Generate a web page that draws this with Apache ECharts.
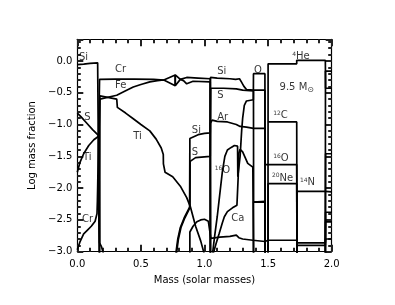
<!DOCTYPE html>
<html><head><meta charset="utf-8">
<script src="https://cdn.jsdelivr.net/npm/echarts@6/dist/echarts.min.js"></script>
<style>html,body{margin:0;padding:0;background:#fff}#c{width:395px;height:305px}</style>
</head><body><div id="c"></div>
<script>
// axis ticks
const xTicks = [0.0, 0.5, 1.0, 1.5, 2.0];
const yTicks = [-3.0, -2.5, -2.0, -1.5, -1.0, -0.5, 0.0];

// abundance profiles [mass, log mass fraction]
const si = [[0,-0.058],[0.05,-0.05],[0.1,-0.04],[0.16,-0.03],[0.172,-0.03],[0.172,-3.1],[0.77,-3.1],[0.79,-2.8],[0.81,-2.62],[0.84,-2.47],[0.87,-2.35],[0.883,-2.3],[0.885,-1.22],[0.9,-1.19],[0.95,-1.16],[1.0,-1.14],[1.045,-1.13],[1.047,-0.26],[1.1,-0.27],[1.2,-0.28],[1.245,-0.29],[1.26,-0.27],[1.275,-0.28],[1.29,-0.33],[1.31,-0.4],[1.33,-0.45],[1.385,-0.46],[1.475,-0.46],[1.477,-3.1]];
const s = [[0,-0.82],[0.03,-0.88],[0.075,-0.98],[0.12,-1.08],[0.17,-1.18],[0.175,-2.86],[0.19,-2.92],[0.215,-3.1],[0.775,-3.1],[0.795,-2.8],[0.815,-2.62],[0.845,-2.47],[0.875,-2.35],[0.886,-2.3],[0.887,-1.58],[0.9,-1.55],[0.93,-1.52],[1.045,-1.5],[1.049,-0.43],[1.15,-0.43],[1.25,-0.44],[1.3,-0.46],[1.385,-0.47],[1.386,-2.22],[1.475,-2.22],[1.477,-3.1]];
const ti = [[0,-1.75],[0.02,-1.6],[0.05,-1.46],[0.09,-1.33],[0.13,-1.24],[0.17,-1.18],[0.178,-0.55],[0.31,-0.6],[0.315,-0.73],[0.38,-0.82],[0.44,-0.91],[0.5,-1.0],[0.57,-1.1],[0.62,-1.23],[0.66,-1.37],[0.676,-1.47],[0.677,-1.62],[0.69,-1.75],[0.75,-1.82],[0.81,-1.97],[0.86,-2.15],[0.89,-2.3],[0.93,-2.6],[0.97,-2.83],[1.0,-3.05]];
const cr = [[0,-2.97],[0.02,-2.85],[0.05,-2.72],[0.08,-2.66],[0.11,-2.6],[0.14,-2.52],[0.155,-2.4],[0.158,-2.2],[0.16,-2.0],[0.175,-0.29],[0.3,-0.285],[0.45,-0.285],[0.6,-0.29],[0.68,-0.3],[0.77,-0.22],[0.77,-0.39],[0.81,-0.29],[0.86,-0.26],[0.95,-0.27],[1.045,-0.28],[1.047,-3.1]];
const fe = [[0.176,-3.1],[0.178,-0.6],[0.31,-0.54],[0.38,-0.47],[0.44,-0.41],[0.5,-0.37],[0.57,-0.33],[0.63,-0.31],[0.68,-0.3],[0.77,-0.39],[0.77,-0.22],[0.81,-0.29],[0.835,-0.31],[0.86,-0.36],[0.875,-0.36],[0.91,-0.32],[1.045,-0.33],[1.047,-3.1]];
const ni = [[0.885,-3.1],[0.885,-2.69],[0.91,-2.6],[0.94,-2.53],[0.97,-2.5],[1.0,-2.49],[1.03,-2.52],[1.045,-2.55],[1.05,-2.79],[1.12,-2.77],[1.2,-2.76],[1.25,-2.74],[1.27,-2.78],[1.3,-2.8],[1.38,-2.82],[1.385,-2.84],[1.475,-2.84],[1.5,-2.82],[1.725,-2.82],[1.727,-2.86],[1.95,-2.86],[1.952,-2.8],[2.0,-2.8]];
const ar = [[1.045,-3.1],[1.046,-0.98],[1.06,-0.93],[1.1,-0.95],[1.18,-0.96],[1.25,-1.0],[1.28,-1.03],[1.33,-1.04],[1.385,-1.06],[1.475,-1.06],[1.477,-3.1]];
const o16 = [[1.062,-3.05],[1.08,-2.75],[1.1,-2.45],[1.12,-2.1],[1.14,-1.75],[1.16,-1.5],[1.18,-1.4],[1.21,-1.36],[1.235,-1.33],[1.26,-1.34],[1.262,-1.82],[1.272,-1.82],[1.28,-1.5],[1.292,-1.1],[1.3,-0.9],[1.313,-0.7],[1.33,-0.63],[1.384,-0.61],[1.385,-0.2],[1.475,-0.2],[1.476,-1.63],[1.725,-1.63],[1.727,-3.1],[1.95,-3.1],[1.952,-1.46],[2.0,-1.46]];
const ca = [[1.066,-3.05],[1.09,-2.88],[1.116,-2.71],[1.14,-2.55],[1.156,-2.45],[1.18,-2.37],[1.22,-2.31],[1.255,-2.27],[1.265,-1.82],[1.27,-1.45],[1.28,-1.39],[1.3,-1.43],[1.32,-1.52],[1.34,-1.61],[1.38,-1.67],[1.386,-3.1]];
const mg = [[1.385,-3.1],[1.385,-2.22],[1.475,-2.21],[1.476,-3.1]];
const ne20 = [[1.5,-3.1],[1.5,-1.93],[1.725,-1.93],[1.727,-3.1],[1.95,-3.1],[1.952,-2.38],[2.0,-2.38]];
const he4 = [[1.499,-3.1],[1.5,-0.045],[1.725,-0.045],[1.725,0.01],[1.95,0.01],[1.952,-0.43],[2.0,-0.43]];
const c12 = [[1.5,-0.96],[1.725,-0.96],[1.727,-3.1],[1.95,-3.1],[1.951,-0.16],[2.0,-0.16]];
const n14 = [[1.726,-3.1],[1.726,-2.05],[1.95,-2.05],[1.952,-2.06],[2.0,-2.06]];
const na = [[1.728,-3.1],[1.728,-2.9],[1.95,-2.9],[1.952,-2.53],[2.0,-2.53]];

// in-plot labels
const labelText = ['Si','S','Ti','Cr','Cr','Fe','Ti','Si','S','Ar','Si','S','{s|16}O','Ca','O','{s|4}He','{a|9.5 M}{b|⊙}','{s|12}C','{s|16}O','{s|20}Ne','{s|14}N'];
const labelX = [0.013,0.055,0.045,0.037,0.297,0.297,0.44,1.1,1.1,1.1,0.9,0.9,1.08,1.21,1.39,1.69,1.59,1.54,1.54,1.53,1.75];
const labelY = [0.05,-0.89,-1.52,-2.49,-0.13,-0.38,-1.18,-0.16,-0.54,-0.89,-1.1,-1.44,-1.72,-2.47,-0.15,0.07,-0.41,-0.85,-1.54,-1.84,-1.91];

const profiles = [si, s, ti, cr, fe, ni, ar, o16, ca, mg, ne20, he4, c12, n14, na];

const FONT = 'DejaVu Sans';
const fmt = v => (v < 0 ? '\u2212' : '') + Math.abs(v).toFixed(1);

const chart = echarts.init(document.getElementById('c'));
const tickStyle = {color: '#222', width: 2};
const axisCommon = {
  type: 'value', min: 0, max: 2, interval: 0.5,
  axisLine: {show: true, onZero: false, lineStyle: {color: '#000', width: 1.2}},
  axisTick: {show: true, inside: true, length: 7, lineStyle: tickStyle},
  minorTick: {show: true, splitNumber: 5, length: 4, lineStyle: tickStyle},
  splitLine: {show: false}
};
const yCommon = {
  type: 'value', min: -3, max: 0.34, interval: 0.5,
  axisLine: {show: true, onZero: false, lineStyle: {color: '#000', width: 1.2}},
  axisTick: {show: true, inside: true, length: 6, lineStyle: tickStyle},
  minorTick: {show: true, splitNumber: 5, length: 3.5, lineStyle: tickStyle},
  splitLine: {show: false}
};
const series = profiles.map(p => ({
  type: 'line', data: p, showSymbol: false, symbol: 'none', clip: true,
  lineStyle: {color: '#000', width: 1.7}, silent: true
}));
series.push({
  type: 'scatter', symbolSize: 0, silent: true,
  data: labelText.map((t, i) => ({value: [labelX[i], labelY[i]], name: t})),
  label: {
    show: true, position: 'right', distance: 0, color: '#000',
    fontFamily: FONT, fontSize: 10,
    formatter: p => p.name,
    rich: {
      s: {fontSize: 6, fontFamily: FONT, color: '#000', verticalAlign: 'top', lineHeight: 8, padding: [0, 0, 4, 0]},
      a: {fontSize: 10, fontFamily: FONT, color: '#000'},
      b: {fontSize: 8, fontFamily: FONT, color: '#000', padding: [5, 0, 0, 0]}
    }
  }
});

chart.setOption({
  animation: false,
  backgroundColor: '#fff',
  grid: {left: 77.3, right: 63.3, top: 39.3, bottom: 53.3},
  xAxis: [
    Object.assign({}, axisCommon, {
      position: 'bottom',
      axisLabel: {show: true, margin: 8, color: '#000', fontFamily: FONT, fontSize: 10,
        formatter: v => xTicks.includes(v) ? v.toFixed(1) : ''},
      name: 'Mass (solar masses)', nameLocation: 'middle', nameGap: 24,
      nameTextStyle: {color: '#000', fontFamily: FONT, fontSize: 10}
    }),
    Object.assign({}, axisCommon, {position: 'top', axisLabel: {show: false}})
  ],
  yAxis: [
    Object.assign({}, yCommon, {
      position: 'left',
      axisLabel: {show: true, margin: 5, color: '#000', fontFamily: FONT, fontSize: 10,
        formatter: v => yTicks.includes(v) ? fmt(v) : ''},
      name: 'Log mass fraction', nameLocation: 'middle', nameGap: 36,
      nameTextStyle: {color: '#000', fontFamily: FONT, fontSize: 10}
    }),
    Object.assign({}, yCommon, {position: 'right', axisLabel: {show: false}})
  ],
  series: series
});
</script></body></html>
